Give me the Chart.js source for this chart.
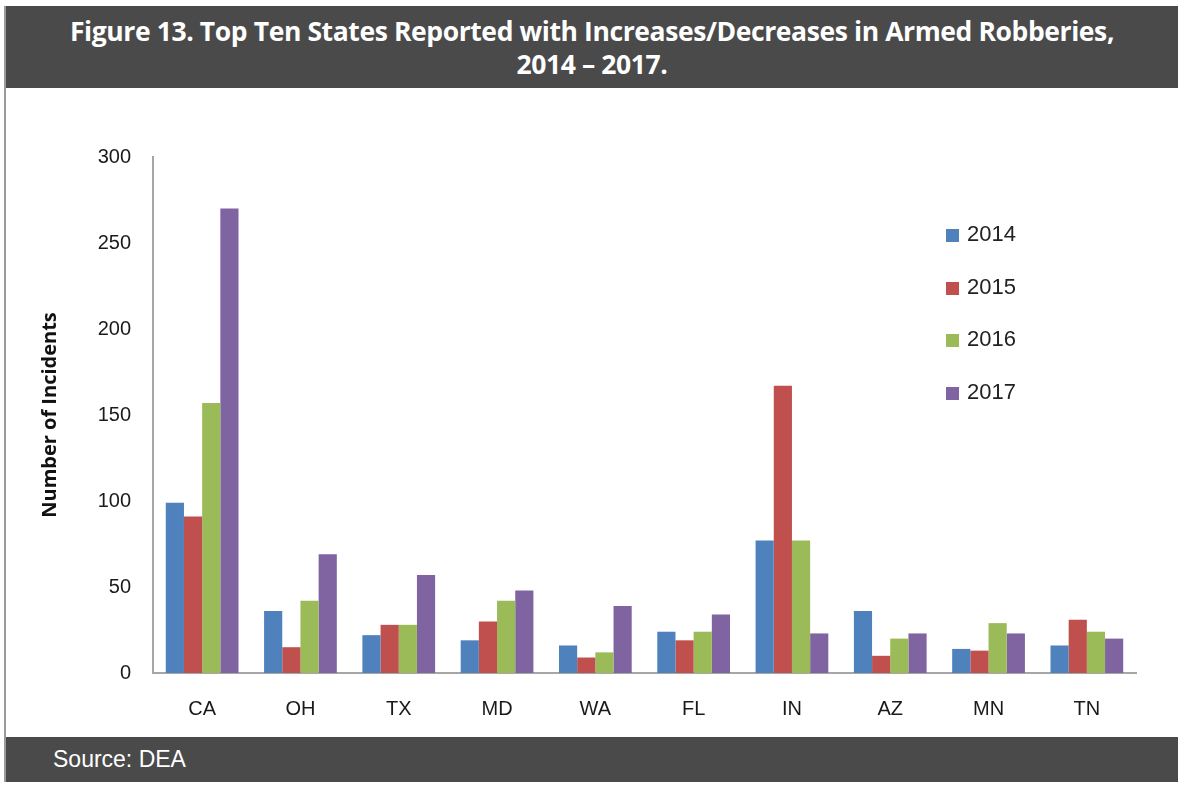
<!DOCTYPE html>
<html>
<head>
<meta charset="utf-8">
<script src="https://cdn.jsdelivr.net/npm/chart.js@4"></script>
<style>
  html, body { margin: 0; padding: 0; background: #fff; }
  #page { position: relative; width: 1178px; height: 785px; overflow: hidden; }
  #frame { position: absolute; left: 4px; top: 6px; width: 1174px; height: 776px; border-left: 2px solid #9a9a9a; }
  #header {
    position: absolute; left: 6px; top: 6px; width: 1172px; height: 82px; background: #4a4a4a;
    color: #fff; font-family: "Open Sans", sans-serif; font-weight: 700; font-size: 26.5px;
    line-height: 33px; text-align: center; padding-top: 9px; box-sizing: border-box; letter-spacing: -0.4px;
  }
  #chartBox { position: absolute; left: 6px; top: 88px; width: 1172px; height: 649px; }
  #footer {
    position: absolute; left: 6px; top: 737px; width: 1172px; height: 45px; background: #4a4a4a;
    color: #fff; font-family: "Liberation Sans", Arial, sans-serif; font-size: 23px; line-height: 45px;
    padding-left: 47px; box-sizing: border-box;
  }
  #legend { position: absolute; left: 946px; top: 221px; font-family: "Liberation Sans", sans-serif; font-size: 22px; color: #222; }
  .item { height: 52.5px; display: flex; align-items: flex-start; }
  .box { width: 13px; height: 13px; margin-top: 8px; margin-right: 8px; }
</style>
</head>
<body>
<div id="page">
  <div id="frame"></div>
  <div id="header">Figure 13. Top Ten States Reported with Increases/Decreases in Armed Robberies,<br>2014 – 2017.</div>
  <div id="chartBox"><canvas id="chart" width="1172" height="649"></canvas></div>
  <div id="legend"></div>
  <div id="footer">Source: DEA</div>
</div>
<script>
// データ
const states = ['CA', 'OH', 'TX', 'MD', 'WA', 'FL', 'IN', 'AZ', 'MN', 'TN'];
const years = ['2014', '2015', '2016', '2017'];
const values2014 = [99, 36, 22, 19, 16, 24, 77, 36, 14, 16];
const values2015 = [91, 15, 28, 30, 9, 19, 167, 10, 13, 31];
const values2016 = [157, 42, 28, 42, 12, 24, 77, 20, 29, 24];
const values2017 = [270, 69, 57, 48, 39, 34, 23, 23, 23, 20];
const yTicks = [0, 50, 100, 150, 200, 250, 300];

const colors = ['#4F81BD', '#C0504D', '#9BBB59', '#8064A2'];
const allValues = [values2014, values2015, values2016, values2017];

const datasets = years.map((y, i) => ({
    label: y,
    data: allValues[i],
    backgroundColor: colors[i],
    borderWidth: 0,
    categoryPercentage: 0.74,
    barPercentage: 1.0
}));

new Chart(document.getElementById('chart'), {
    type: 'bar',
    data: { labels: states, datasets: datasets },
    options: {
        responsive: false,
        animation: false,
        layout: { padding: { top: 69, right: 42, left: 32, bottom: 0 } },
        plugins: {
            legend: { display: false },
            tooltip: { enabled: false }
        },
        scales: {
            x: {
                grid: { display: false, drawTicks: false },
                border: { color: '#a6a6a6', width: 2 },
                ticks: { padding: 24, color: '#1a1a1a', font: { family: 'Liberation Sans', size: 20 } },
                afterFit: s => { s.height = 64; }
            },
            y: {
                min: 0, max: 300,
                afterBuildTicks: s => { s.ticks = yTicks.map(v => ({ value: v })); },
                grid: { display: false, drawTicks: false },
                border: { color: '#a6a6a6', width: 2 },
                ticks: { padding: 22, color: '#1a1a1a', font: { family: 'Liberation Sans', size: 20 } },
                title: {
                    display: true, text: 'Number of Incidents', color: '#111',
                    font: { family: 'Open Sans', size: 20, weight: 'bold' }, padding: { top: 0, bottom: 0 }
                },
                afterFit: s => { s.width = 115; }
            }
        }
    }
});

// 凡例
const legendEl = document.getElementById('legend');
years.forEach((y, i) => {
    const row = document.createElement('div');
    row.className = 'item';
    row.innerHTML = `<span class="box" style="background:${colors[i]}"></span><span>${y}</span>`;
    legendEl.appendChild(row);
});
</script>
</body>
</html>
